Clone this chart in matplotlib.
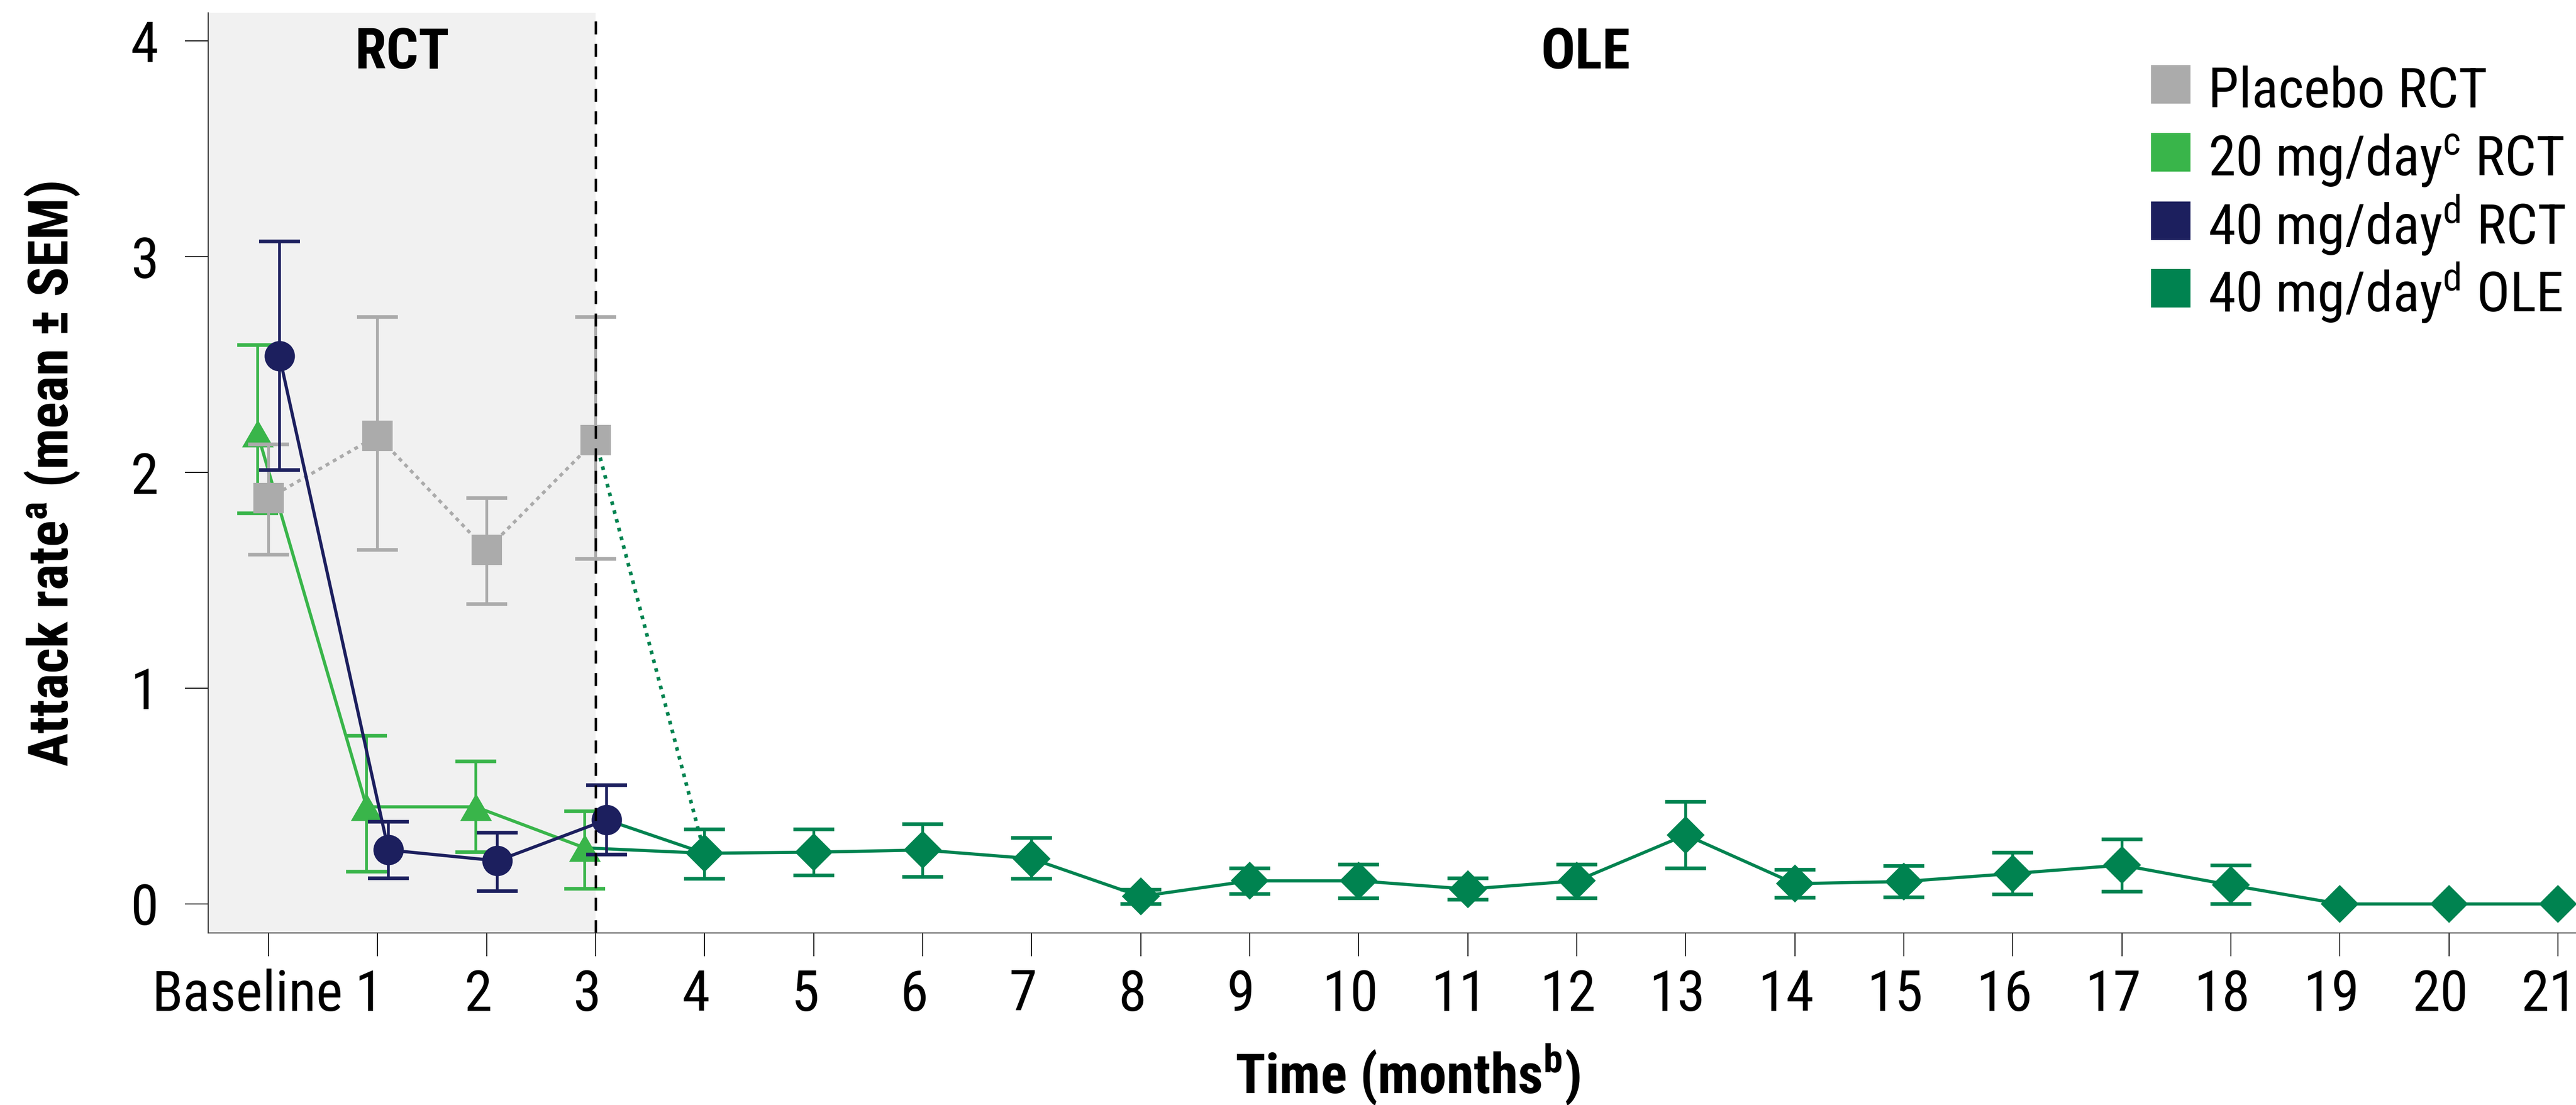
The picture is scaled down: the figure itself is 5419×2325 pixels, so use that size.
import matplotlib
matplotlib.use("Agg")
import matplotlib.pyplot as plt
from matplotlib import font_manager as fm
from matplotlib.patches import Rectangle
from matplotlib.transforms import ScaledTranslation
import numpy as np

# ---------------- data ----------------
months_rct = [0, 1, 2, 3]
placebo_mean = [1.88, 2.17, 1.64, 2.15]
placebo_lo = [1.62, 1.64, 1.39, 1.60]
placebo_hi = [2.13, 2.72, 1.88, 2.72]

mg20_mean = [2.18, 0.45, 0.45, 0.26]
mg20_lo = [1.81, 0.15, 0.24, 0.07]
mg20_hi = [2.59, 0.78, 0.66, 0.43]

mg40_mean = [2.54, 0.25, 0.20, 0.39]
mg40_lo = [2.01, 0.12, 0.06, 0.23]
mg40_hi = [3.07, 0.38, 0.33, 0.55]

months_ole = [4, 5, 6, 7, 8, 9, 10, 11, 12, 13, 14, 15, 16, 17, 18, 19, 20, 21]
ole_mean = [0.235, 0.24, 0.25, 0.21, 0.035, 0.107, 0.107, 0.069, 0.107, 0.32,
            0.094, 0.104, 0.141, 0.18, 0.087, 0.0, 0.0, 0.0]
ole_lo = [0.117, 0.133, 0.126, 0.117, 0.0, 0.046, 0.026, 0.02, 0.026, 0.165,
          0.028, 0.03, 0.043, 0.057, 0.0, None, None, None]
ole_hi = [0.345, 0.345, 0.369, 0.306, 0.067, 0.165, 0.183, 0.119, 0.183, 0.474,
          0.159, 0.176, 0.237, 0.30, 0.178, None, None, None]

xtick_values = list(range(22))
xtick_labels = ["Baseline"] + [str(i) for i in range(1, 22)]
ytick_values = [0, 1, 2, 3, 4]

legend_labels = ["Placebo RCT", r"20 mg/day$^{\mathrm{c}}$ RCT",
                 r"40 mg/day$^{\mathrm{d}}$ RCT", r"40 mg/day$^{\mathrm{d}}$ OLE"]

C_PLA = "#ababab"
C_20 = "#39b54a"
C_40 = "#1c1f5e"
C_OLE = "#008350"
legend_colors = [C_PLA, C_20, C_40, C_OLE]

# ---------------- fonts ----------------
names = {f.name for f in fm.fontManager.ttflist}
if "Roboto Condensed" in names:
    FAM = "Roboto Condensed"
    FS_TICK, FS_LEG, FS_LAB, FS_HEAD = 86, 84, 84, 86
elif "Liberation Sans Narrow" in names:
    FAM = "Liberation Sans Narrow"
    FS_TICK, FS_LEG, FS_LAB, FS_HEAD = 86, 80, 84, 85
else:
    FAM = "Roboto"
    FS_TICK, FS_LEG, FS_LAB, FS_HEAD = 76, 71, 75, 77
plt.rcParams["font.family"] = [FAM, "DejaVu Sans"]
plt.rcParams["mathtext.fontset"] = "custom"
plt.rcParams["mathtext.rm"] = FAM
plt.rcParams["mathtext.bf"] = FAM + ":bold"
plt.rcParams["mathtext.it"] = FAM

# ---------------- figure ----------------
W, H, DPI = 5419, 2325, 100
fig = plt.figure(figsize=(W / DPI, H / DPI), dpi=DPI)
ax = fig.add_axes([438 / W, 1 - 1963 / H, (W - 438) / W, (1963 - 27) / H])

XL, XR = -0.553, 21.166
ax.set_xlim(XL, XR)
ax.set_ylim(-0.1344, 4.130)

ax.axvspan(XL, 3, color="#f1f1f1", zorder=0, lw=0)
ax.axvline(3, color="black", lw=3.7, ls=(0, (5.3, 3.9)), zorder=10)

dodge = 0.1
xp = np.array(months_rct, dtype=float)
x20 = xp - dodge
x40 = xp + dodge

EBKW = dict(fmt="none", elinewidth=4.2, capsize=31, capthick=5.5)


def errbars(x, m, lo, hi, c, z):
    x = np.asarray(x, float)
    m = np.asarray(m, float)
    keep = np.array([v is not None for v in lo])
    lo_a = np.array([v for v in lo if v is not None], float)
    hi_a = np.array([v for v in hi if v is not None], float)
    ax.errorbar(x[keep], m[keep], yerr=[m[keep] - lo_a, hi_a - m[keep]],
                ecolor=c, zorder=z, **EBKW)


tri = [(-1, -0.866), (1, -0.866), (0, 0.866)]

# 20 mg RCT
errbars(x20, mg20_mean, mg20_lo, mg20_hi, C_20, 3)
ax.plot(x20, mg20_mean, color=C_20, lw=4.8, marker=tri, ms=48, mew=0, zorder=3.1)

# placebo RCT
errbars(xp, placebo_mean, placebo_lo, placebo_hi, C_PLA, 4)
ax.plot(xp, placebo_mean, color=C_PLA, lw=5, ls=(0, (1.2, 1.3)), marker="s",
        ms=46, mew=0, zorder=4.1)

# 40 mg RCT
errbars(x40, mg40_mean, mg40_lo, mg40_hi, C_40, 5)
ax.plot(x40, mg40_mean, color=C_40, lw=4.8, marker="o", ms=46, mew=0, zorder=5.1)

# connectors RCT month 3 -> OLE month 4
ax.plot([xp[3], months_ole[0]], [placebo_mean[3], ole_mean[0]], color=C_OLE,
        lw=5.5, ls=(0, (1, 1.5)), zorder=2.5)
ax.plot([x20[3], months_ole[0]], [mg20_mean[3], ole_mean[0]], color=C_OLE,
        lw=4.8, zorder=2.5)
ax.plot([x40[3], months_ole[0]], [mg40_mean[3], ole_mean[0]], color=C_OLE,
        lw=4.8, zorder=2.5)

# OLE
errbars(months_ole, ole_mean, ole_lo, ole_hi, C_OLE, 6)
ax.plot(months_ole, ole_mean, color=C_OLE, lw=4.8, marker="D", ms=41, mew=0,
        zorder=6.1)

# axes styling
ax.set_xticks(xtick_values)
ax.set_xticklabels(xtick_labels)
ax.set_yticks(ytick_values)
for s in ["top", "right"]:
    ax.spines[s].set_visible(False)
for s in ["left", "bottom"]:
    ax.spines[s].set_linewidth(1.6)
    ax.spines[s].set_color("#333333")
    ax.spines[s].set_zorder(11)
ax.tick_params(axis="both", direction="out", length=35, width=1.4,
               color="black", labelsize=FS_TICK)
ax.tick_params(axis="x", pad=19)
ax.tick_params(axis="y", pad=40)

# the reference labels sit a little left of their ticks
for i, lbl in enumerate(ax.get_xticklabels()):
    dx_px = -44 if i == 0 else -18
    lbl.set_transform(lbl.get_transform() +
                      ScaledTranslation(dx_px / DPI, 0, fig.dpi_scale_trans))

# region headers
ax.text((XL + 3) / 2, 3.872, "RCT", ha="center", va="baseline",
        fontsize=FS_HEAD, fontweight="bold", zorder=12)
ax.text((3 + XR) / 2, 3.872, "OLE", ha="center", va="baseline",
        fontsize=FS_HEAD, fontweight="bold", zorder=12)

# axis labels
fig.text(143 / W, 1 - 997 / H, r"Attack rate$^{\mathbf{a}}$ (mean ± SEM)",
         rotation=90, rotation_mode="anchor", ha="center", va="baseline",
         fontsize=FS_LAB, fontweight="bold")
fig.text(2961 / W, 1 - 2300 / H, r"Time (months$^{\mathbf{b}}$)",
         ha="center", va="baseline", fontsize=FS_LAB, fontweight="bold")

# legend (manual)
row_centers = [177, 320, 464, 606]
for yc, lab, col in zip(row_centers, legend_labels, legend_colors):
    fig.add_artist(Rectangle((4525 / W, 1 - (yc + 40.5) / H), 83 / W, 81 / H,
                             transform=fig.transFigure, facecolor=col,
                             edgecolor="none"))
    fig.text(4645 / W, 1 - (yc + 49) / H, lab, ha="left", va="baseline",
             fontsize=FS_LEG)

fig.savefig("out.png", dpi=DPI)
